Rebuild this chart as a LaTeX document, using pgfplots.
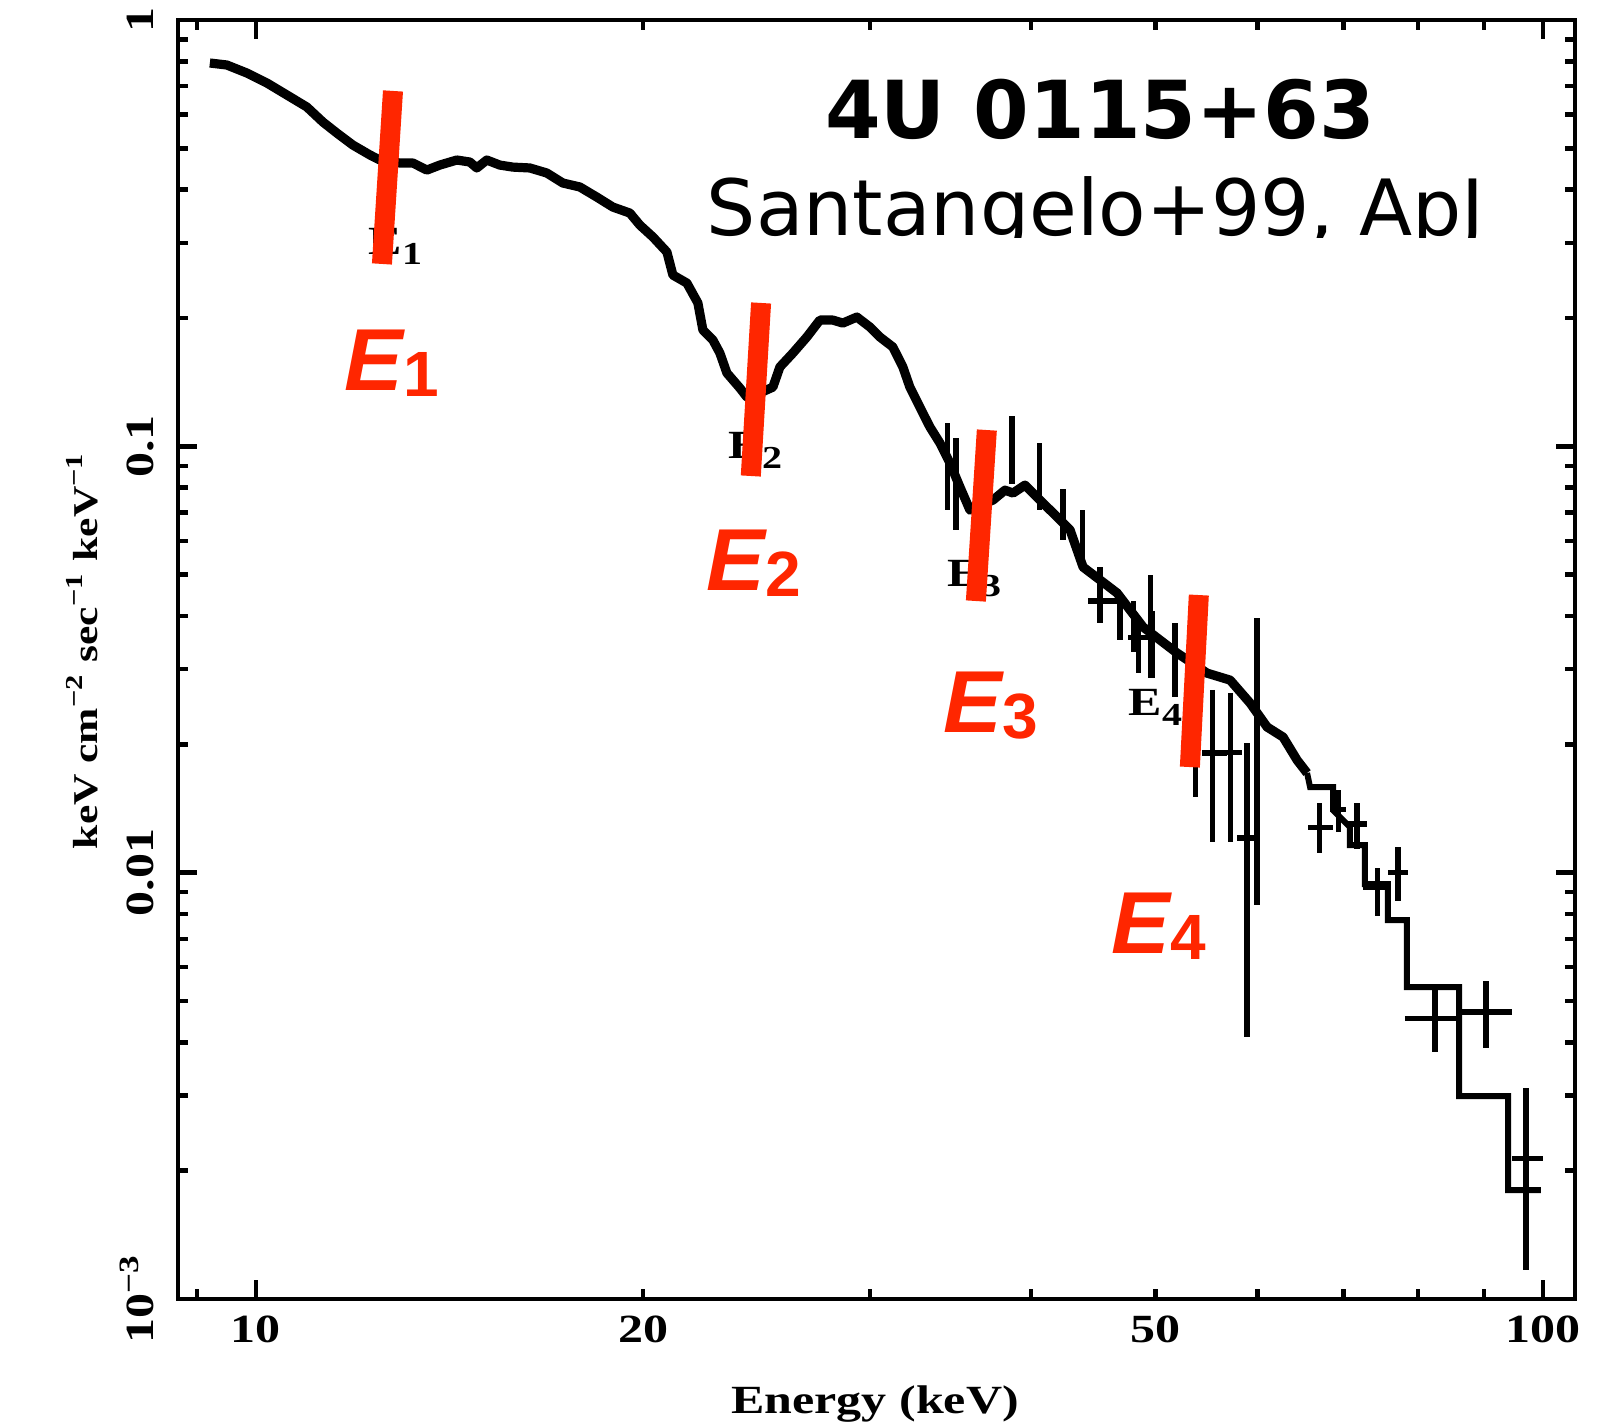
\documentclass[border=0pt]{standalone}
\usepackage{fontspec}
\usepackage{pgfplots}
\pgfplotsset{compat=1.18}
\newfontfamily\pgpfont{Liberation Serif}[FakeStretch=1.25]
\newfontfamily\djsans{DejaVu Sans}
\newfontfamily\lsans{Liberation Sans}
\definecolor{ered}{RGB}{255,38,0}
\newcommand{\tkfont}{\pgpfont\bfseries\fontsize{10}{12}\selectfont}
\newcommand{\bigE}[1]{{\lsans\bfseries\itshape\fontsize{22}{24}\selectfont E}{\lsans\bfseries\fontsize{16}{18}\selectfont\raisebox{-1.5pt}{#1}}}
\newcommand{\smallE}[1]{{\tkfont E\raisebox{-2.5pt}{\fontsize{8}{9}\selectfont #1}}}

\begin{document}
\begin{tikzpicture}
\begin{axis}[
    name=ax,
    xmode=log, ymode=log,
    scale only axis,
    width=349.25pt, height=319.75pt,
    xmin=8.70, xmax=105.9,
    ymin=0.001, ymax=1,
    axis line style={line width=1.1pt},
    every tick/.style={black, line width=1.1pt},
    major tick length=4.75pt, minor tick length=2.5pt,
    xtick={10,100}, xticklabels={10,100},
    minor xtick={9,20,30,40,50,60,70,80,90},
    extra x ticks={20,50}, extra x tick labels={20,50},
    extra x tick style={major tick length=0pt},
    ytick={0.001,0.01,0.1,1},
    yticklabels={10\textsuperscript{−3},0.01,0.1,1},
    minor ytick={0.002,0.003,0.004,0.005,0.006,0.007,0.008,0.009,
                 0.02,0.03,0.04,0.05,0.06,0.07,0.08,0.09,
                 0.2,0.3,0.4,0.5,0.6,0.7,0.8,0.9},
    tick label style={font=\tkfont, inner sep=0pt},
    xticklabel style={anchor=base, yshift=-10.75pt},
    yticklabel style={xshift=-6.25pt, rotate=90, anchor=base},
    xlabel={Energy (keV)},
    xlabel style={at={(rel axis cs:0.499,-0.0899)}, anchor=base, inner sep=0pt, font=\tkfont},
    ylabel={keV cm\textsuperscript{−2} sec\textsuperscript{−1} keV\textsuperscript{−1}},
    ylabel style={at={(rel axis cs:-0.0687,0.507)}, anchor=center, inner sep=0pt,
                  font=\pgpfont\bfseries\fontsize{8.7}{10}\selectfont},
]

% spectrum, densely binned part
\addplot[black, line width=2.3pt, line join=round] coordinates {
(9.210,0.7928) (9.494,0.7843) (9.840,0.7511) (10.199,0.7117) (10.570,0.6671)
(10.955,0.6251) (11.274,0.5763) (11.560,0.5430) (11.895,0.5089) (12.262,0.4825)
(12.484,0.4694) (12.938,0.4619) (13.243,0.4619) (13.578,0.4446) (13.897,0.4568)
(14.326,0.4694) (14.663,0.4644) (14.848,0.4497) (15.116,0.4694) (15.472,0.4568)
(15.837,0.4518) (16.326,0.4497) (16.831,0.4376) (17.320,0.4146) (17.855,0.4058)
(18.406,0.3843) (18.941,0.3641) (19.526,0.3525) (19.879,0.3304) (20.347,0.3097)
(20.862,0.2856) (21.087,0.2522) (21.621,0.2415) (22.051,0.2169) (22.249,0.1875)
(22.650,0.1776) (22.936,0.1655) (23.225,0.1486) (23.771,0.1370) (24.070,0.1305)
(24.637,0.1334) (25.217,0.1377) (25.535,0.1535) (26.135,0.1655) (26.797,0.1805)
(27.428,0.1978) (28.073,0.1978) (28.579,0.1946) (29.307,0.2010) (29.996,0.1905)
(30.538,0.1805) (31.256,0.1710) (31.820,0.1535) (32.221,0.1377) (32.803,0.1236)
(33.395,0.1110) (34.001,0.1018) (34.615,0.09137) (35.242,0.08024) (35.880,0.07087)
(36.529,0.07281) (37.388,0.07480) (38.199,0.07894) (38.751,0.07771) (39.591,0.08111)
(40.669,0.07480) (41.777,0.06900) (42.914,0.06364) (43.924,0.05209) (45.281,0.04858)
(46.681,0.04528) (47.778,0.04130) (48.902,0.03768) (50.411,0.03512) (51.968,0.03274)
(53.669,0.03068) (54.834,0.02938) (57.141,0.02829) (59.222,0.02499) (61.050,0.02196)
(62.823,0.02080) (64.415,0.01837) (65.578,0.01713)
};

% spectrum, wide high-energy bins
\addplot[black, line width=1.5pt, line join=miter] coordinates {
(65.578,0.01713)
(65.930,0.01588) (68.701,0.01588) (68.701,0.01402) (70.798,0.01279)
(70.798,0.01161) (72.725,0.01161) (72.725,0.009402) (75.778,0.009402)
(75.778,0.007740) (78.400,0.007740) (78.400,0.005391) (86.060,0.005391)
(86.060,0.002992) (93.966,0.002992) (93.966,0.001800) (99.644,0.001800)
};

% error crosses
\addplot[black, line width=1.3pt, unbounded coords=jump] coordinates {
(54.34,0.01908) (56.83,0.01908) (nan,nan) (55.33,0.02683) (55.33,0.01180) (nan,nan)
(55.82,0.01918) (58.38,0.01918) (nan,nan) (57.14,0.02639) (57.14,0.01180) (nan,nan)
(57.86,0.01206) (59.75,0.01206) (nan,nan) (58.90,0.02014) (58.90,0.004115) (nan,nan)
(59.96,0.03956) (59.96,0.008394) (nan,nan)
(65.70,0.01279) (68.70,0.01279) (nan,nan) (67.09,0.01456) (67.09,0.01111) (nan,nan)
(68.33,0.01409) (70.29,0.01409) (nan,nan) (69.32,0.01562) (69.32,0.01245) (nan,nan)
(70.42,0.01300) (72.99,0.01300) (nan,nan) (71.69,0.01456) (71.69,0.01136) (nan,nan)
(72.47,0.009250) (75.64,0.009250) (nan,nan) (74.43,0.01025) (74.43,0.007909) (nan,nan)
(75.78,0.01003) (78.54,0.01003) (nan,nan) (77.15,0.01148) (77.15,0.008578) (nan,nan)
(78.12,0.004559) (86.21,0.004559) (nan,nan) (82.43,0.005391) (82.43,0.003795) (nan,nan)
(86.21,0.004710) (94.64,0.004710) (nan,nan) (90.31,0.005568) (90.31,0.003878) (nan,nan)
(94.64,0.002140) (100.0,0.002140) (nan,nan) (97.00,0.003124) (97.00,0.001169) (nan,nan)
(53.67,0.01837) (53.67,0.01504) (nan,nan)
(44.32,0.04337) (47.00,0.04337) (nan,nan) (45.28,0.04702) (45.28,0.03871) (nan,nan)
(47.61,0.03569) (49.52,0.03569) (nan,nan) (48.47,0.03871) (48.47,0.02938) (nan,nan)
(34.49,0.1134) (34.49,0.07087) (nan,nan)
(34.99,0.1046) (34.99,0.06364) (nan,nan)
(38.68,0.1178) (38.68,0.08155) (nan,nan)
(40.60,0.1018) (40.60,0.07087) (nan,nan)
(42.38,0.07938) (42.38,0.06029) (nan,nan)
(43.85,0.07087) (43.85,0.05098) (nan,nan)
(49.70,0.04108) (49.70,0.02860) (nan,nan)
(48.04,0.04337) (48.04,0.03292) (nan,nan)
(45.28,0.05209) (45.28,0.03850) (nan,nan)
(46.92,0.04528) (46.92,0.03512) (nan,nan)
(49.52,0.04990) (49.52,0.02860) (nan,nan)
(51.78,0.03850) (51.78,0.02583)
};

% small line labels of the original plot
\node[anchor=base west, inner sep=0pt] at (rel axis cs:0.1360,0.8163) {\smallE{1}};
\node[anchor=base west, inner sep=0pt] at (rel axis cs:0.3937,0.6575) {\smallE{2}};
\node[anchor=base west, inner sep=0pt] at (rel axis cs:0.5505,0.5567) {\smallE{3}};
\node[anchor=base west, inner sep=0pt] at (rel axis cs:0.6800,0.4566) {\smallE{4}};

% red markers
\addplot[ered, line width=5pt] coordinates {(12.78,0.6817) (12.53,0.2678)};
\addplot[ered, line width=5pt] coordinates {(24.69,0.2169) (24.24,0.0852)};
\addplot[ered, line width=5pt] coordinates {(36.98,0.1092) (36.26,0.04337)};
\addplot[ered, line width=5pt] coordinates {(54.03,0.04479) (53.17,0.01769)};

\node[anchor=base west, inner sep=0pt, text=ered] at (rel axis cs:0.1188,0.7107) {\bigE{1}};
\node[anchor=base west, inner sep=0pt, text=ered] at (rel axis cs:0.3780,0.5536) {\bigE{2}};
\node[anchor=base west, inner sep=0pt, text=ered] at (rel axis cs:0.5476,0.4433) {\bigE{3}};
\node[anchor=base west, inner sep=0pt, text=ered] at (rel axis cs:0.6679,0.2705) {\bigE{4}};

\node[anchor=base, inner sep=0pt, font=\djsans\bfseries\fontsize{20}{24}\selectfont]
    at (rel axis cs:0.6600,0.9077) {4U 0115+63};
\coordinate (sant) at (rel axis cs:0.3780,0.8311);
\end{axis}

\begin{scope}
\clip ([xshift=-3pt,yshift=-0.3pt]sant) rectangle ++(205pt,30pt);
\node[anchor=base west, inner sep=0pt, font=\djsans\fontsize{19.4}{23}\selectfont]
    at (sant) {Santangelo+99, ApJ};
\end{scope}

\path ([shift={(-44.5pt,-31.25pt)}]ax.south west) rectangle ([shift={(5.75pt,5pt)}]ax.north east);
\end{tikzpicture}
\end{document}
